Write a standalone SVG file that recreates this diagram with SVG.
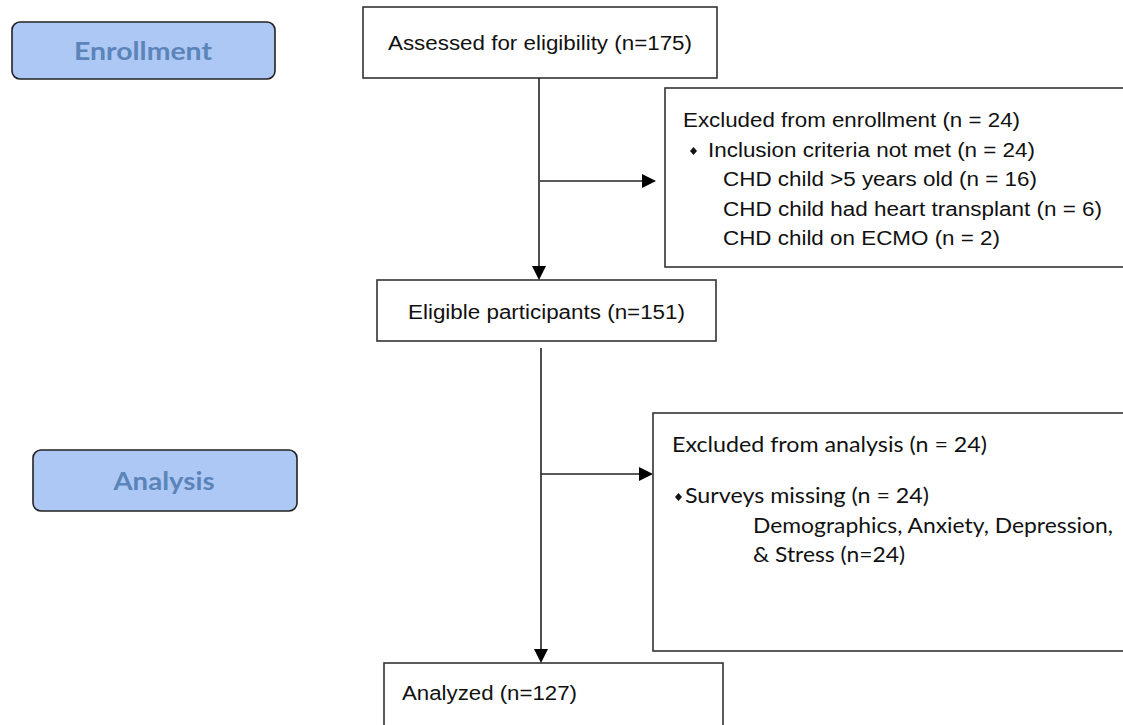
<svg xmlns="http://www.w3.org/2000/svg" width="1123" height="725" viewBox="0 0 1123 725">
<style>
.box{fill:#fff;stroke:#333;stroke-width:1.6}
.stage{fill:#aec8f5;stroke:#222;stroke-width:1.6}
.stl{font-family:Lato,"Open Sans",sans-serif;font-weight:bold;font-size:25px;fill:#5b84b8;text-anchor:middle}
.t{font-family:"Liberation Sans",Arial,sans-serif;font-size:20px;fill:#111}
.c{font-family:Lato,"Open Sans",sans-serif;font-size:21px;fill:#111}
.ln{stroke:#222;stroke-width:1.6;fill:none}
.ah{fill:#000}
</style>
<rect width="1123" height="725" fill="#fff"/>
<g id="enrollment">
<rect class="stage" x="12" y="22" width="263" height="57" rx="8"/>
<text class="stl" x="143" y="60" textLength="138" lengthAdjust="spacingAndGlyphs">Enrollment</text>
</g>
<g id="analysis">
<rect class="stage" x="33" y="450" width="264" height="61" rx="8"/>
<text class="stl" x="164" y="490" textLength="101" lengthAdjust="spacingAndGlyphs">Analysis</text>
</g>
<g id="assessed">
<rect class="box" x="363" y="7" width="354" height="71"/>
<text class="t" x="388" y="50" textLength="304" lengthAdjust="spacingAndGlyphs">Assessed for eligibility (n=175)</text>
</g>
<g id="excluded-enrollment">
<rect class="box" x="665" y="88" width="470" height="179"/>
<text class="t" x="683" y="127" textLength="337" lengthAdjust="spacingAndGlyphs">Excluded from enrollment (n = 24)</text>
<path d="M690 151 l3.5 -4 l3.5 4 l-3.5 4 z" fill="#111"/>
<text class="t" x="708" y="157" textLength="327" lengthAdjust="spacingAndGlyphs">Inclusion criteria not met (n = 24)</text>
<text class="t" x="723" y="186" textLength="314" lengthAdjust="spacingAndGlyphs">CHD child &gt;5 years old (n = 16)</text>
<text class="t" x="723" y="216" textLength="379" lengthAdjust="spacingAndGlyphs">CHD child had heart transplant (n = 6)</text>
<text class="t" x="723" y="245" textLength="277" lengthAdjust="spacingAndGlyphs">CHD child on ECMO (n = 2)</text>
</g>
<g id="eligible">
<rect class="box" x="377" y="280" width="339" height="61"/>
<text class="t" x="408" y="319" textLength="277" lengthAdjust="spacingAndGlyphs">Eligible participants (n=151)</text>
</g>
<g id="excluded-analysis">
<rect class="box" x="653" y="413" width="480" height="238"/>
<text class="c" x="672" y="452" textLength="315" lengthAdjust="spacingAndGlyphs">Excluded from analysis (n = 24)</text>
<path d="M675 497 l3.5 -4 l3.5 4 l-3.5 4 z" fill="#111"/>
<text class="c" x="685" y="503" textLength="244" lengthAdjust="spacingAndGlyphs">Surveys missing  (n = 24)</text>
<text class="c" x="753" y="533" textLength="360" lengthAdjust="spacingAndGlyphs">Demographics, Anxiety, Depression,</text>
<text class="c" x="753" y="562" textLength="152" lengthAdjust="spacingAndGlyphs">&amp; Stress (n=24)</text>
</g>
<g id="analyzed">
<rect class="box" x="384" y="663" width="339" height="80"/>
<text class="t" x="402" y="700" textLength="175" lengthAdjust="spacingAndGlyphs">Analyzed (n=127)</text>
</g>
<g id="connectors">
<line class="ln" x1="539" y1="78" x2="539" y2="267"/>
<polygon class="ah" points="532,266 546,266 539,280"/>
<line class="ln" x1="540" y1="181" x2="643" y2="181"/>
<polygon class="ah" points="642,174 642,188 656,181"/>
<line class="ln" x1="541" y1="348" x2="541" y2="650"/>
<polygon class="ah" points="534,649 548,649 541,663"/>
<line class="ln" x1="541" y1="474" x2="640" y2="474"/>
<polygon class="ah" points="639,467 639,481 653,474"/>
</g>
</svg>
